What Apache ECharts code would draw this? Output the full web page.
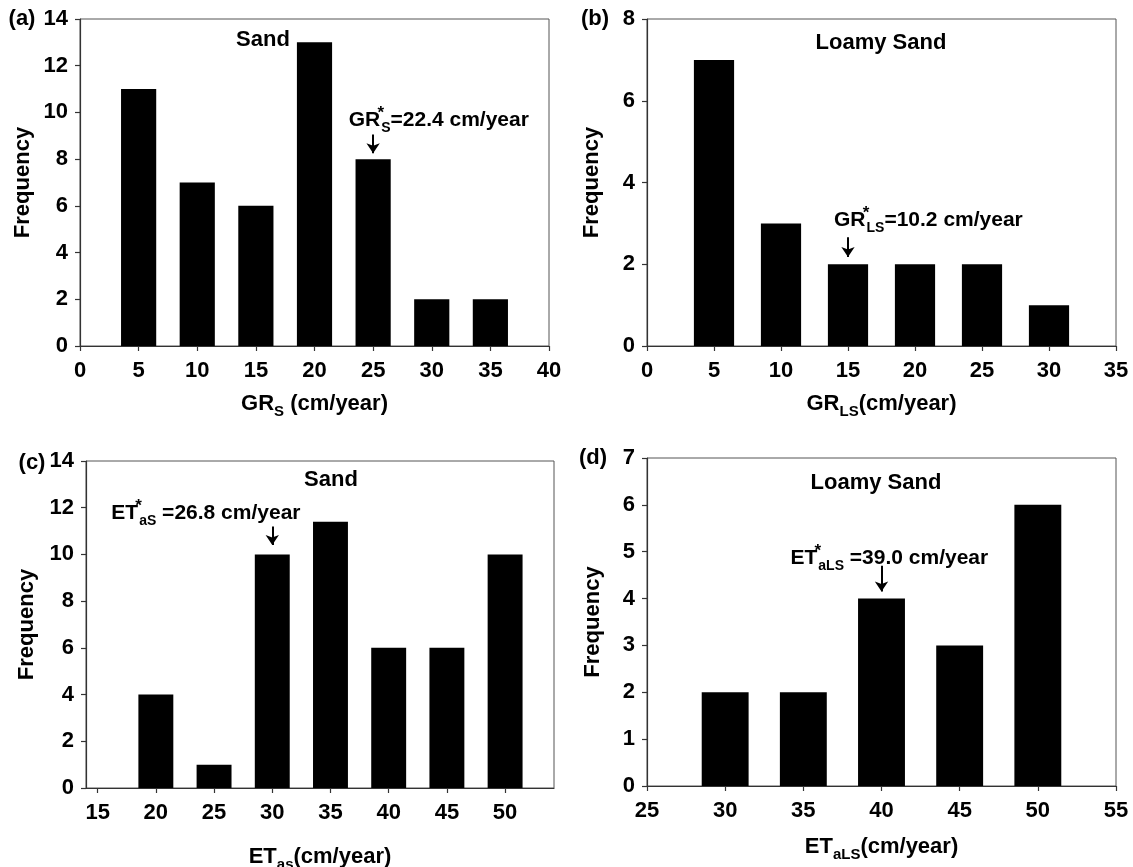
<!DOCTYPE html>
<html>
<head>
<meta charset="utf-8">
<script src="https://cdn.jsdelivr.net/npm/echarts@6/dist/echarts.min.js"></script>
<style>
html,body{margin:0;padding:0;background:#fff;}
#chart{width:1133px;height:867px;}
</style>
</head>
<body>
<div id="chart"></div>
<script>
const F = '"Liberation Sans", Arial, Helvetica, sans-serif';

// ---- data ----
const grsBins = [5, 10, 15, 20, 25, 30, 35];
const grsFreq = [11, 7, 6, 13, 8, 2, 2];
const grlsBins = [5, 10, 15, 20, 25, 30];
const grlsFreq = [7, 3, 2, 2, 2, 1];
const etasBins = [20, 25, 30, 35, 40, 45, 50];
const etasFreq = [4, 1, 10, 11.4, 6, 6, 10];
const etalsBins = [30, 35, 40, 45, 50];
const etalsFreq = [2, 2, 4, 3, 6];

const ticksA = [0, 5, 10, 15, 20, 25, 30, 35, 40];
const ticksB = [0, 5, 10, 15, 20, 25, 30, 35];
const ticksC = [15, 20, 25, 30, 35, 40, 45, 50];
const ticksD = [25, 30, 35, 40, 45, 50, 55];

const panelLabels = ['(a)', '(b)', '(c)', '(d)'];
const soilTitles = ['Sand', 'Loamy Sand', 'Sand', 'Loamy Sand'];
const xNameParts = [['GR', 'S', ' (cm/year)'], ['GR', 'LS', '(cm/year)'], ['ET', 'as', '(cm/year)'], ['ET', 'aLS', '(cm/year)']];
const noteBase = ['GR', 'GR', 'ET', 'ET'];
const noteSub = ['S', 'LS', 'aS', 'aLS'];
const noteText = ['=22.4 cm/year', '=10.2 cm/year', ' =26.8 cm/year', ' =39.0 cm/year'];
const noteAt = [[30.6, 9.67], [21.0, 3.08], [24.3, 11.78], [40.5, 4.86]];
const arrowFrom = [[25, 9.05], [15, 2.66], [30, 11.2], [40, 4.7]];
const arrowTo = [[25, 8.25], [15, 2.18], [30, 10.4], [40, 4.15]];

// ---- layout / style ----
const grids = [
  {left: 80, top: 19, width: 469, height: 327},
  {left: 647, top: 19, width: 469, height: 327},
  {left: 86, top: 461, width: 468, height: 327},
  {left: 647, top: 458, width: 469, height: 328}
];
const xRange = [[0, 40], [0, 35], [14, 54.2], [25, 55]];
const xTicks = [ticksA, ticksB, ticksC, ticksD];
const yMax = [14, 8, 14, 7];
const yInt = [2, 2, 2, 1];
const bins = [grsBins, grlsBins, etasBins, etalsBins];
const freqs = [grsFreq, grlsFreq, etasFreq, etalsFreq];
const xNameGap = [43, 43, 54, 46];
const yNameGap = [46, 44, 48, 43];
const labelPos = [[22, 19], [595, 19], [32, 463], [593, 458]];
const titlePos = [[263, 40], [881, 43], [331, 480], [876, 483]];

function richSet(size, sub) {
  return {
    t: {fontSize: size, fontWeight: 'bold', fontFamily: F, color: '#000', lineHeight: 30, verticalAlign: 'middle'},
    sb: {fontSize: sub, fontWeight: 'bold', fontFamily: F, color: '#000', lineHeight: sub, verticalAlign: 'bottom'},
    sp: {fontSize: 17, fontWeight: 'bold', fontFamily: F, color: '#000', lineHeight: 17, verticalAlign: 'top', width: 1}
  };
}
const nameRich = richSet(22, 15);
const noteRich = richSet(21, 14);

const option = {
  animation: false,
  backgroundColor: '#fff',
  textStyle: {fontFamily: F},
  grid: grids.map(g => Object.assign({show: true, borderColor: '#555', borderWidth: 1, backgroundColor: 'transparent', containLabel: false, outerBoundsMode: 'none'}, g)),
  xAxis: grids.map((g, i) => ({
    gridIndex: i,
    type: 'value',
    min: xRange[i][0],
    max: xRange[i][1],
    splitLine: {show: false},
    axisLine: {show: true, onZero: false, lineStyle: {color: '#333', width: 1.2}},
    axisTick: {show: true, customValues: xTicks[i], length: 5, lineStyle: {color: '#333', width: 1.2}},
    axisLabel: {customValues: xTicks[i], fontSize: 22, fontWeight: 'bold', fontFamily: F, color: '#000', margin: 14},
    name: '{t|' + xNameParts[i][0] + '}{sb|' + xNameParts[i][1] + '}{t|' + xNameParts[i][2] + '}',
    nameLocation: 'middle',
    nameGap: xNameGap[i],
    nameTextStyle: {rich: nameRich}
  })),
  yAxis: grids.map((g, i) => ({
    gridIndex: i,
    type: 'value',
    min: 0,
    max: yMax[i],
    interval: yInt[i],
    splitLine: {show: false},
    axisLine: {show: true, lineStyle: {color: '#333', width: 1.2}},
    axisTick: {show: true, length: 5, lineStyle: {color: '#333', width: 1.2}},
    axisLabel: {fontSize: 22, fontWeight: 'bold', fontFamily: F, color: '#000', margin: 12},
    name: 'Frequency',
    nameLocation: 'middle',
    nameGap: yNameGap[i],
    nameTextStyle: {fontSize: 22, fontWeight: 'bold', fontFamily: F, color: '#000'}
  })),
  series: grids.map((g, i) => ({
    type: 'bar',
    xAxisIndex: i,
    yAxisIndex: i,
    barWidth: '60%',
    itemStyle: {color: '#000'},
    data: bins[i].map((b, k) => [b, freqs[i][k]]),
    markLine: {
      silent: true,
      animation: false,
      symbol: ['none', 'arrow'],
      symbolSize: 10,
      lineStyle: {color: '#000', width: 2, type: 'solid'},
      label: {show: false},
      data: [[{coord: arrowFrom[i]}, {coord: arrowTo[i]}]]
    },
    markPoint: {
      silent: true,
      animation: false,
      symbol: 'circle',
      symbolSize: 1,
      itemStyle: {color: 'rgba(0,0,0,0)'},
      label: {
        show: true,
        position: 'inside',
        formatter: '{t|' + noteBase[i] + '}{sp|*}{sb|' + noteSub[i] + '}{t|' + noteText[i] + '}',
        rich: noteRich
      },
      data: [{coord: noteAt[i]}]
    }
  })),
  graphic: labelPos.map((p, i) => ({
    type: 'text', x: p[0], y: p[1], silent: true,
    style: {text: panelLabels[i], font: 'bold 22px ' + F, fill: '#000', textAlign: 'center', textVerticalAlign: 'middle'}
  })).concat(titlePos.map((p, i) => ({
    type: 'text', x: p[0], y: p[1], silent: true,
    style: {text: soilTitles[i], font: 'bold 22px ' + F, fill: '#000', textAlign: 'center', textVerticalAlign: 'middle'}
  })))
};

const chart = echarts.init(document.getElementById('chart'), null, {renderer: 'canvas'});
chart.setOption(option);
</script>
</body>
</html>
